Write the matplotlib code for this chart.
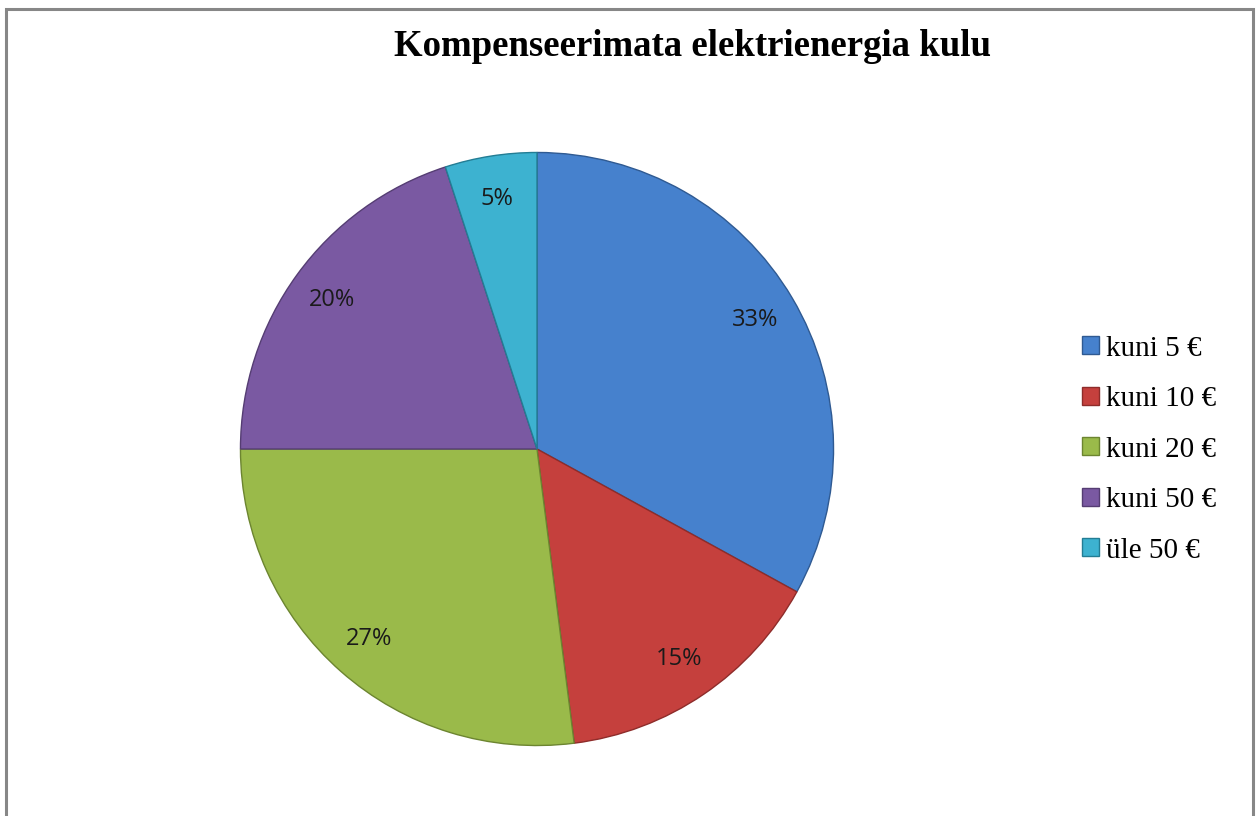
import matplotlib.pyplot as plt
from matplotlib.patches import Rectangle

# slice data (clockwise from 12 o'clock)
categories = ['kuni 5 €', 'kuni 10 €', 'kuni 20 €', 'kuni 50 €', 'üle 50 €']
shares = [33, 15, 27, 20, 5]
colors = ['#4681cd', '#c5403d', '#9aba4a', '#7a59a2', '#3db2d0']
edges = ['#2f5a92', '#8e2c2a', '#6c8530', '#553d73', '#237d94']

W, H = 1258, 816
fig = plt.figure(figsize=(W / 100, H / 100), dpi=100)
fig.patch.set_facecolor('white')

# outer frame (open at the bottom, like the cropped original)
fig.add_artist(Rectangle((6 / W, -0.1), (1253 - 6) / W, 1.1 - 8.5 / H,
                         transform=fig.transFigure, fill=False,
                         edgecolor='#878787', linewidth=2.2))

# pie placed by pixel geometry: centre (537, 449), radius 298
cx, cy, r = 537, 449, 298
ax = fig.add_axes([(cx - r) / W, (H - cy - r) / H, 2 * r / W, 2 * r / H])
wedges, texts, autotexts = ax.pie(
    shares, colors=colors, startangle=90, counterclock=False,
    autopct='%d%%', pctdistance=0.855, radius=1.0,
    wedgeprops=dict(linewidth=1.0),
    textprops=dict(fontsize=17, family='Open Sans', color='#1a1a1a'))
for w, ec in zip(wedges, edges):
    w.set_edgecolor(ec)
ax.set_xlim(-1.005, 1.005)
ax.set_ylim(-1.005, 1.005)
ax.set_aspect('equal')
ax.axis('off')

fig.text(692 / W, 1 - 47 / H, 'Kompenseerimata elektrienergia kulu',
         ha='center', va='center', fontsize=26.5, fontweight='bold',
         family='Liberation Serif')

leg = fig.legend(wedges, categories, loc='center left',
                 bbox_to_anchor=(1082 / W, 1 - 449.5 / H), frameon=False,
                 prop=dict(family='Liberation Serif', size=21),
                 handlelength=0.58, handleheight=0.58, handletextpad=0.25,
                 labelspacing=0.84, borderpad=0, borderaxespad=0)

fig.savefig('out.png', dpi=100, facecolor='white')
